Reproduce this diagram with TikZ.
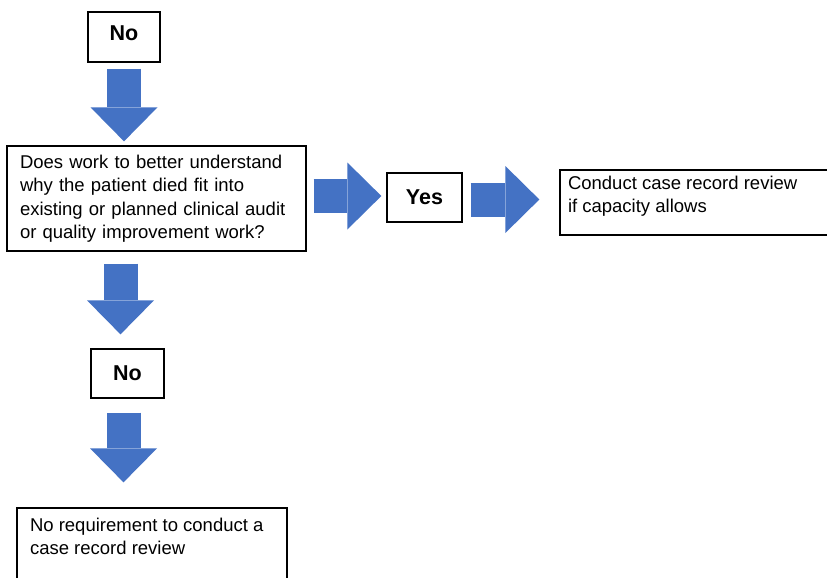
\documentclass[tikz,border=0pt]{standalone}
\usepackage{fontspec}
\setmainfont{Liberation Sans}
\usepackage{tikz}
\usetikzlibrary{positioning, arrows.meta, calc}

\definecolor{officeblue}{HTML}{4472C4}

\tikzset{
  box/.style={draw=black, line width=1.3pt, fill=white, inner sep=0pt},
  answer/.style={box, font=\fontsize{21.5}{24}\selectfont\bfseries},
  textbox/.style={box, align=left, font=\fontsize{18.5}{23.5}\selectfont},
  blockarrow/.style={draw=officeblue, line width=34pt,
    -{Triangle[length=34pt, width=67pt, line width=0pt]}}
}

\begin{document}
\begin{tikzpicture}[x=1pt, y=-1pt]
        \useasboundingbox (0,0) rectangle (827,578);
        \clip (0,0) rectangle (827,578);

        % boxes
        \node[answer, minimum width=72pt, minimum height=50pt, text depth=8pt] (topno) at (124,37) {No};
        \node[textbox, minimum width=299pt, minimum height=105pt, text width=273pt] (question) at (156.5,198.5)
          {Does work to better understand\\why the patient died fit into\\existing or planned clinical audit\\or quality improvement work?};
        \node[answer, minimum width=75pt, minimum height=49pt] (yes) at (424.5,197.5) {Yes};
        \node[textbox, inner xsep=8pt, inner ysep=6pt] (conduct) at (705,202.5)
          {\parbox[c][53pt][t]{274pt}{Conduct case record review\\if capacity allows}};
        \node[answer, minimum width=73pt, minimum height=49pt] (midno) at (127.5,373.5) {No};
        \node[textbox, inner xsep=13pt, inner ysep=10pt] (noreq) at (152,554)
          {\parbox[c][72pt][t]{244pt}{No requirement to conduct a\\case record review}};

        % block arrows
        \draw[blockarrow] ($(topno.south)+(0,6)$) -- ($(topno.south |- question.north)+(0,-4)$);
        \draw[blockarrow] ($(question.east |- yes.west)+(7,-1.5)$) -- ($(yes.west)+(-5,-1.5)$);
        \draw[blockarrow] ($(yes.east)+(8,2)$) -- ($(yes.east -| conduct.west)+(-20,2)$);
        \draw[blockarrow] ($(question.south -| midno.north)+(-7,12)$) -- ($(midno.north)+(-7,-14)$);
        \draw[blockarrow] ($(midno.south)+(-4,14)$) -- ($(midno.south |- noreq.north)+(-4,-25)$);
\end{tikzpicture}
\end{document}
